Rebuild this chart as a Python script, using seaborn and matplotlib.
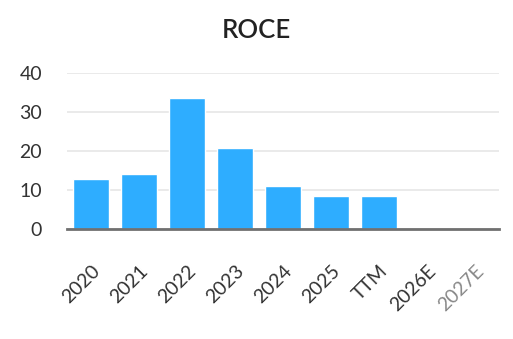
import matplotlib
matplotlib.use("Agg")
import matplotlib.pyplot as plt
import seaborn as sns
import pandas as pd

categories = ["2020", "2021", "2022", "2023", "2024", "2025", "TTM", "2026E", "2027E"]
roce = [12.8, 14.1, 33.6, 20.8, 11.0, 8.5, 8.5, 0, 0]
yticks = [0, 10, 20, 30, 40]

df = pd.DataFrame({"period": categories, "roce": roce})

sns.set_theme(style="white")
plt.rcParams["font.family"] = ["Lato", "DejaVu Sans"]

fig = plt.figure(figsize=(5.13, 3.39), dpi=100)
ax = fig.add_axes([0.1306, 0.3245, 0.8421, 0.4602])

sns.barplot(data=df, x="period", y="roce", color="#2EADFF", saturation=1,
            width=0.75, ax=ax)

ax.set_ylim(0, 40)
ax.set_xlim(-0.5, len(categories) - 0.5)
ax.set_yticks(yticks)
ax.set_yticklabels([str(t) for t in yticks])
ax.yaxis.grid(True, color="#e6e6e6", linewidth=1.2)
ax.set_axisbelow(True)
for s in ["top", "right", "left"]:
    ax.spines[s].set_visible(False)
ax.spines["bottom"].set_color("#707070")
ax.spines["bottom"].set_linewidth(2)
ax.spines["bottom"].set_zorder(5)
ax.tick_params(axis="both", length=0, labelsize=14, colors="#333333")
ax.tick_params(axis="y", pad=18)
ax.tick_params(axis="x", pad=24)
for lbl in ax.get_xticklabels():
    lbl.set_rotation(45)
    lbl.set_ha("right")
    lbl.set_rotation_mode("anchor")
ax.get_xticklabels()[-1].set_color("#888888")
ax.set_xlabel("")
ax.set_ylabel("")

fig.suptitle("ROCE", x=0.5, y=0.948, fontsize=18.5, fontweight="semibold", color="#222222")

fig.savefig("out.png", dpi=100, facecolor="white")
